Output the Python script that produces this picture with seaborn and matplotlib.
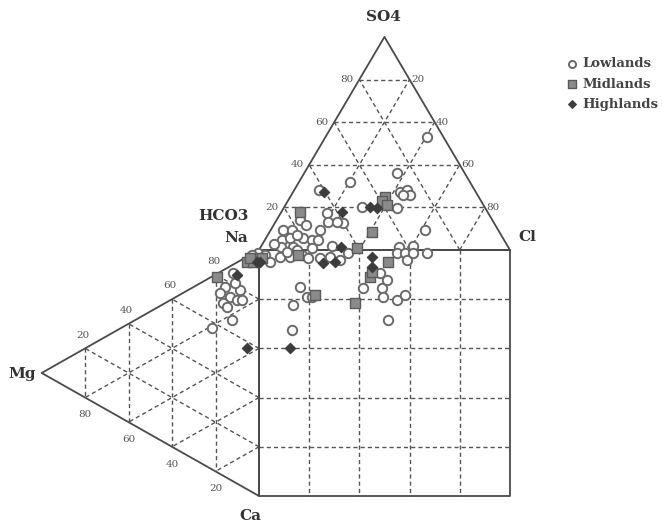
import numpy as np
import pandas as pd
import matplotlib
matplotlib.use("Agg")
import matplotlib.pyplot as plt
import seaborn as sns

# anion triangle points: (SO4 %, Cl %), HCO3 is the rest
low_anion = [(53.0, 40.4), (36.1, 36.9), (31.9, 20.4), (27.2, 42.6), (28.2, 44.9),
             (25.8, 47.3), (25.8, 44.5), (28.2, 10.0), (20.2, 30.9), (19.7, 45.1),
             (17.4, 18.4), (12.7, 27.1), (9.4, 61.4), (9.4, 4.9), (9.4, 8.4),
             (4.7, 6.8), (5.6, 9.6), (5.6, 14.7), (4.7, 18.8), (9.4, 19.6),
             (4.7, 21.2), (13.1, 20.9), (13.1, 24.5), (14.1, 9.3), (1.5, 8.0),
             (1.2, 13.0), (1.0, 20.5), (2.0, 28.0), (1.5, 55.0), (2.0, 60.5),
             (7.0, 11.5), (11.5, 13.0), (3.0, 4.5)]
mid_anion = [(24.9, 37.8), (23.0, 37.5), (21.1, 40.4), (17.8, 7.4), (8.4, 40.8), (0.9, 38.6)]
high_anion = [(27.2, 12.2), (17.8, 24.2), (20.2, 34.1), (19.7, 37.2), (1.5, 32.0)]

# cation triangle points: (Mg %, Ca %), Na is the rest
low_cation = [(15.6, 7.2), (13.3, 12.4), (10.1, 15.2), (7.8, 16.4), (16.6, 13.2),
              (14.7, 15.8), (12.0, 3.3), (21.6, 20.9), (12.4, 22.3), (0.5, 1.0),
              (8.7, 12.0), (17.9, 8.6), (11.0, 7.9), (3.0, 0.5)]
mid_cation = [(5.5, 2.2), (2.8, 3.5), (19.3, 1.4), (4.1, 1.2)]
high_cation = [(5.5, 37.0), (10.1, 5.1), (1.0, 4.5)]

# square points: (% across, % down)
low_square = [(8.4, 2.8), (12.4, 2.8), (17.1, 2.0), (19.5, 3.3), (11.2, 0.8), (15.1, 0.0),
              (24.3, 3.3), (28.3, 2.8), (32.3, 4.1), (35.5, 1.2), (55.0, 1.2), (58.2, 1.2),
              (59.0, 4.1), (61.4, 1.2), (66.9, 1.2), (16.3, 15.0), (13.5, 22.4), (19.1, 19.1),
              (21.1, 19.1), (41.4, 15.4), (49.0, 15.4), (49.4, 19.1), (55.0, 20.3), (58.2, 18.3),
              (51.4, 28.5), (13.1, 32.5), (48.2, 9.3), (51.0, 12.2), (2.4, 2.0), (4.4, 4.9)]
mid_square = [(15.5, 2.0), (51.4, 4.9), (44.2, 11.0), (22.3, 18.3), (38.2, 21.5), (1.2, 3.3), (45.0, 9.0)]
high_square = [(25.5, 5.3), (30.3, 4.9), (45.0, 2.8), (45.0, 6.9), (12.4, 39.8), (0.4, 4.9)]

ticks = [20, 40, 60, 80]
H = np.sqrt(3) / 2


def anion_xy(so4, cl):
    return cl + so4 / 2, so4 * H


def cation_xy(mg, ca):
    return -mg * H, -ca - mg / 2


def group_frame(anion, cation, square):
    pts = [anion_xy(s, c) for s, c in anion]
    pts += [cation_xy(m, c) for m, c in cation]
    pts += [(a, -b) for a, b in square]
    return pd.DataFrame(pts, columns=["x", "y"])


sns.set_style("white")
plt.rcParams["font.family"] = ["DejaVu Serif"]

fig = plt.figure(figsize=(6.62, 5.26), dpi=100)
ax = fig.add_axes([0, 0, 1, 1])
ax.set_xlim(-103.2, 160.6)
ax.set_ylim(-112.2, 101.6)
ax.axis("off")

line_c = "#4a4a4a"
dash = dict(color="#555555", lw=1.0, linestyle=(0, (3, 2.2)), zorder=1)

# outlines
ax.plot([0, 50, 100, 0], [0, 100 * H, 0, 0], color=line_c, lw=1.3, zorder=2)
ax.plot([0, -100 * H, 0, 0], [0, -50, -100, 0], color=line_c, lw=1.3, zorder=2)
ax.plot([0, 100, 100, 0, 0], [0, 0, -100, -100, 0], color=line_c, lw=1.3, zorder=2)

for t in ticks:
    # anion triangle grid
    for a, b in [((t, 0), (t, 100 - t)), ((0, t), (100 - t, t)), ((0, 100 - t), (100 - t, 0))]:
        p, q = anion_xy(*a), anion_xy(*b)
        ax.plot([p[0], q[0]], [p[1], q[1]], **dash)
    # cation triangle grid
    for a, b in [((t, 0), (t, 100 - t)), ((0, t), (100 - t, t)), ((0, 100 - t), (100 - t, 0))]:
        p, q = cation_xy(*a), cation_xy(*b)
        ax.plot([p[0], q[0]], [p[1], q[1]], **dash)
    # square grid
    ax.plot([t, t], [0, -100], **dash)
    ax.plot([0, 100], [-t, -t], **dash)

# tick labels
num = dict(fontsize=7.5, color="#555555")
for t in ticks:
    x, y = anion_xy(t, 0)
    ax.annotate(str(t), (x, y), xytext=(-4, 0), textcoords="offset points", ha="right", va="center", **num)
    x, y = anion_xy(t, 100 - t)
    ax.annotate(str(100 - t), (x, y), xytext=(1, 0), textcoords="offset points", ha="left", va="center", **num)
    x, y = cation_xy(t, 0)
    ax.annotate(str(100 - t), (x, y), xytext=(-1.5, 9.5), textcoords="offset points", ha="center", va="center", **num)
    x, y = cation_xy(t, 100 - t)
    ax.annotate(str(t), (x, y), xytext=(0, -12.5), textcoords="offset points", ha="center", va="center", **num)

# corner labels (pixel positions converted)
lab = dict(fontsize=11, fontweight="bold", color="#333333", ha="center", va="center")
def px(X, Y):
    return (X - 259) / 2.51, (250 - Y) / 2.46
for text, X, Y in [("SO4", 383, 17), ("HCO3", 223, 216), ("Na", 236, 238),
                   ("Cl", 527, 237), ("Mg", 22, 374), ("Ca", 250, 516)]:
    ax.text(*px(X, Y), text, **lab)

low = group_frame(low_anion, low_cation, low_square)
mid = group_frame(mid_anion, mid_cation, mid_square)
high = group_frame(high_anion, high_cation, high_square)

sns.scatterplot(data=low, x="x", y="y", ax=ax, marker="o", s=46, color="white",
                edgecolor="#6a6a6a", linewidth=1.4, zorder=3, label="Lowlands")
sns.scatterplot(data=mid, x="x", y="y", ax=ax, marker="s", s=52, color="#8a8a8a",
                edgecolor="#5a5a5a", linewidth=1.0, zorder=4, label="Midlands")
sns.scatterplot(data=high, x="x", y="y", ax=ax, marker="D", s=28, color="#3c3c3c",
                edgecolor="#3c3c3c", linewidth=0.8, zorder=5, label="Highlands")

leg = ax.legend(loc="upper left", bbox_to_anchor=(560 / 662, 1 - 52 / 526), frameon=False,
                prop=dict(family="DejaVu Serif", weight="bold", size=9.5),
                handletextpad=0.3, labelspacing=0.55, handlelength=1.0, borderaxespad=0,
                markerscale=0.75)
for t in leg.get_texts():
    t.set_color("#444444")

fig.savefig("out.png", dpi=100)
